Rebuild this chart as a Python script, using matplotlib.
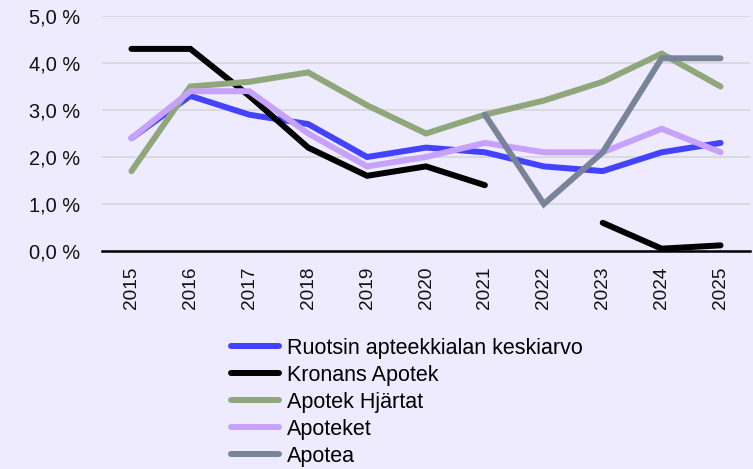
import matplotlib.pyplot as plt
import numpy as np

# Data
years = ['2015', '2016', '2017', '2018', '2019', '2020', '2021', '2022', '2023', '2024', '2025']
ruotsin = [2.4, 3.3, 2.9, 2.7, 2.0, 2.2, 2.1, 1.8, 1.7, 2.1, 2.3]
kronans = [4.3, 4.3, 3.3, 2.2, 1.6, 1.8, 1.4, np.nan, 0.6, 0.05, 0.12]
hjartat = [1.7, 3.5, 3.6, 3.8, 3.1, 2.5, 2.9, 3.2, 3.6, 4.2, 3.5]
apoteket = [2.4, 3.4, 3.4, 2.5, 1.8, 2.0, 2.3, 2.1, 2.1, 2.6, 2.1]
apotea = [np.nan, np.nan, np.nan, np.nan, np.nan, np.nan, 2.9, 1.0, 2.1, 4.1, 4.1]

series = [
    ('Ruotsin apteekkialan keskiarvo', ruotsin, '#4343ff'),
    ('Kronans Apotek', kronans, '#000000'),
    ('Apotek Hjärtat', hjartat, '#8fa77a'),
    ('Apoteket', apoteket, '#c7a2fc'),
    ('Apotea', apotea, '#7a8498'),
]

BG = '#edebfd'
plt.rcParams['font.family'] = ['Liberation Sans', 'DejaVu Sans']

fig = plt.figure(figsize=(7.53, 4.69), dpi=100, facecolor=BG)
ax = fig.add_axes([102 / 753, 1 - 251 / 469, 648 / 753, 235 / 469], facecolor=BG)

x = np.arange(len(years))
for label, vals, color in series:
    ax.plot(x, vals, color=color, lw=4.3, solid_capstyle='round',
            solid_joinstyle='miter', label=label, zorder=3)

ax.set_xlim(-0.5, len(years) - 0.5)
ax.set_ylim(0, 5)
ax.set_yticks([0, 1, 2, 3, 4, 5])
ax.set_yticklabels(['0,0 %', '1,0 %', '2,0 %', '3,0 %', '4,0 %', '5,0 %'], fontsize=14.4)
ax.set_xticks(x)
ax.set_xticklabels(years, rotation=90, fontsize=13.7)
ax.tick_params(axis='both', length=0, colors='#111111')
ax.tick_params(axis='x', pad=11.5)
ax.tick_params(axis='y', pad=16)

ax.grid(axis='y', color='#d6d6d8', lw=1.2, zorder=0)
for s in ['left', 'right', 'top']:
    ax.spines[s].set_visible(False)
ax.spines['bottom'].set_color('#000000')
ax.spines['bottom'].set_linewidth(1.8)
ax.spines['bottom'].set_zorder(4)

fig.legend(loc='upper left', bbox_to_anchor=(222 / 753, 1 - 329 / 469),
           frameon=False, fontsize=15.5, handlelength=2.25, handletextpad=0.37,
           labelspacing=0.28, borderaxespad=0)

fig.savefig('out.png', dpi=100, facecolor=BG)
